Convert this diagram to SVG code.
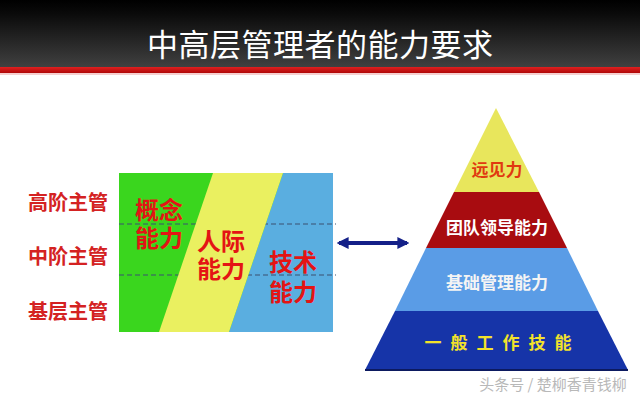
<svg xmlns="http://www.w3.org/2000/svg" width="640" height="401" viewBox="0 0 640 401">
<defs>
<linearGradient id="hdr" x1="0" y1="0" x2="0" y2="1">
<stop offset="0" stop-color="#000000"/>
<stop offset="0.2" stop-color="#0a0a0a"/>
<stop offset="1" stop-color="#404040"/>
</linearGradient>
<linearGradient id="red" x1="0" y1="0" x2="0" y2="1">
<stop offset="0" stop-color="#e02020"/>
<stop offset="1" stop-color="#b00808"/>
</linearGradient>
<marker id="ah" viewBox="0 0 10 10" refX="8" refY="5" markerWidth="3" markerHeight="3.6" orient="auto-start-reverse" markerUnits="strokeWidth">
<path d="M0,0 L10,5 L0,10 z" fill="#142088"/>
</marker>
<style>
text{font-family:"Noto Sans CJK SC","Noto Sans",sans-serif;}
.lvl{font-size:20px;font-weight:bold;fill:#d42222;}
.cap{font-size:24px;font-weight:bold;fill:#e41414;}
.pyr{font-size:17px;font-weight:bold;text-anchor:middle;}
.dash{stroke:#3a5070;stroke-width:1;stroke-dasharray:5,3;fill:none;}
</style>
</defs>
<rect width="640" height="401" fill="#ffffff"/>
<g id="header">
<rect x="0" y="0" width="640" height="67" fill="url(#hdr)"/>
<rect x="0" y="67" width="640" height="6" fill="url(#red)"/>
<rect x="0" y="73" width="640" height="2" fill="#f6d0d0"/>
<text x="320" y="56" font-size="31" fill="#ffffff" text-anchor="middle" textLength="346" lengthAdjust="spacing">中高层管理者的能力要求</text>
</g>
<g id="levels">
<text class="lvl" x="28" y="210">高阶主管</text>
<text class="lvl" x="28" y="264">中阶主管</text>
<text class="lvl" x="28" y="319">基层主管</text>
</g>
<g id="chart">
<rect x="119" y="173" width="214" height="159" fill="#3ad61e"/>
<polygon points="283,173 333,173 333,332 229,332" fill="#5aaee0"/>
<line class="dash" x1="119" y1="224" x2="336" y2="224"/>
<line class="dash" x1="119" y1="275" x2="336" y2="275"/>
<polygon points="213,173 283,173 229,332 159,332" fill="#eaf060"/>
</g>
<g id="concept">
<text class="cap" x="135" y="219">概念<tspan x="135" dy="28">能力</tspan></text>
</g>
<g id="human">
<text class="cap" x="197" y="250">人际<tspan x="197" dy="28">能力</tspan></text>
</g>
<g id="tech">
<text class="cap" x="269" y="271">技术<tspan x="269" dy="30">能力</tspan></text>
</g>
<g id="connectors">
<line x1="339" y1="243" x2="407" y2="243" stroke="#142088" stroke-width="4" marker-start="url(#ah)" marker-end="url(#ah)"/>
</g>
<g id="pyramid">
<g id="p-vision">
<polygon points="496,108 539,192 454,192" fill="#e8e65c"/>
<text class="pyr" x="497" y="176" fill="#e03a10">远见力</text>
</g>
<g id="p-team">
<polygon points="454,192 539,192 567,248 426,248" fill="#a80c10"/>
<text class="pyr" x="497" y="234" fill="#ffffff">团队领导能力</text>
</g>
<g id="p-mgmt">
<polygon points="426,248 567,248 598,311 395,311" fill="#5a9ce6"/>
<text class="pyr" x="497" y="289" fill="#f4f4f4">基础管理能力</text>
</g>
<g id="p-work">
<polygon points="395,311 598,311 628,370 365,370" fill="#1634a8"/>
<line x1="365" y1="370" x2="628" y2="370" stroke="#0c1a60" stroke-width="2"/>
<text class="pyr" x="498" y="349" fill="#f2e22a" font-size="18" textLength="147" lengthAdjust="spacing">一 般 工 作 技 能</text>
</g>
</g>
<text x="553" y="390" font-size="15" fill="#b8b8b8" text-anchor="middle">头条号 / 楚柳香青钱柳</text>
</svg>
